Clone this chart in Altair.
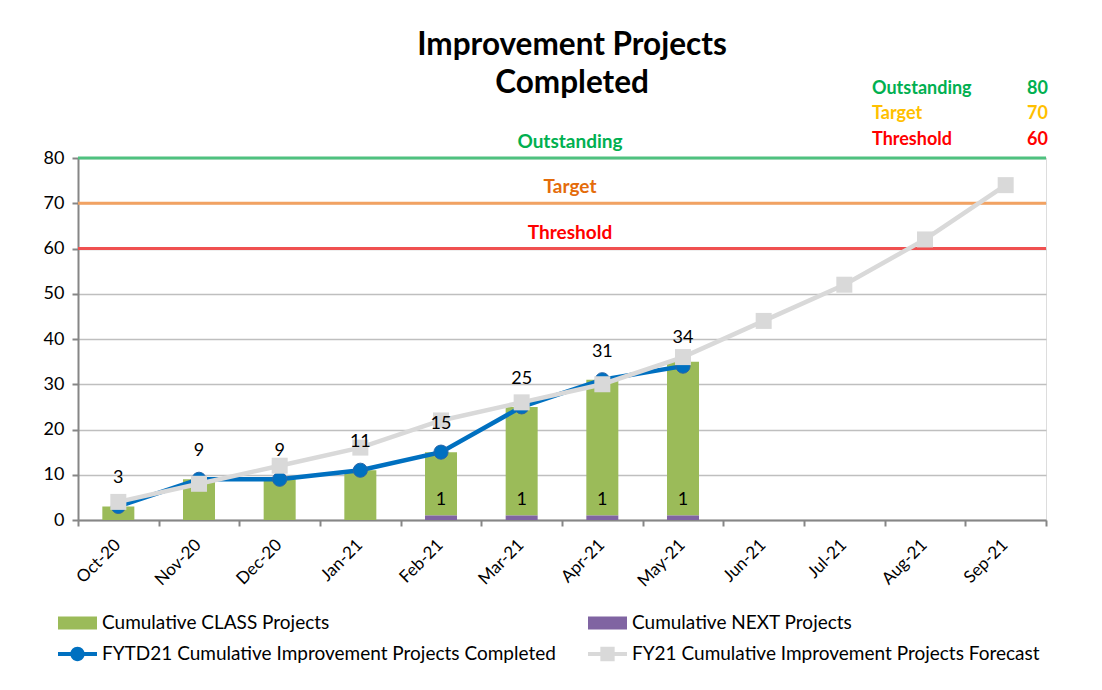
import altair as alt
import pandas as pd

# ---------------- data ----------------
months = ["Oct-20", "Nov-20", "Dec-20", "Jan-21", "Feb-21", "Mar-21",
          "Apr-21", "May-21", "Jun-21", "Jul-21", "Aug-21", "Sep-21"]
class_projects = [3, 9, 9, 11, 14, 24, 30, 34]
next_projects = [0, 0, 0, 0, 1, 1, 1, 1]
completed = [3, 9, 9, 11, 15, 25, 31, 34]
forecast = [4, 8, 12, 16, 22, 26, 30, 36, 44, 52, 62, 74]

ref_names = ["Outstanding", "Target", "Threshold"]
ref_values = [80, 70, 60]
ref_line_colors = ["#4FC17F", "#F2A262", "#F05050"]
ref_text_colors = ["#00B050", "#E46C0A", "#FF0000"]
box_colors = ["#00B050", "#FFC000", "#FF0000"]

# legend order (column-major layout: left column first)
series_names = ["Cumulative CLASS Projects",
                "FYTD21 Cumulative Improvement Projects Completed",
                "Cumulative NEXT Projects",
                "FY21 Cumulative Improvement Projects Forecast"]
series_colors = ["#9BBB59", "#0070C0", "#8064A2", "#D9D9D9"]
series_symbols = [
    "M-1.5,-0.5L1.5,-0.5L1.5,0.5L-1.5,0.5Z",
    "M-1.5,-0.15L1.5,-0.15L1.5,0.15L-1.5,0.15Z M0.55,0A0.55,0.55,0,1,1,-0.55,0A0.55,0.55,0,1,1,0.55,0Z",
    "M-1.5,-0.5L1.5,-0.5L1.5,0.5L-1.5,0.5Z",
    "M-1.5,-0.15L1.5,-0.15L1.5,0.15L-1.5,0.15Z M-0.55,-0.55L0.55,-0.55L0.55,0.55L-0.55,0.55Z",
]
bar_colors = ["#9BBB59", "#8064A2"]

FONT = "Lato"

# ---------------- tables ----------------
n_act = len(class_projects)
bars = pd.DataFrame({
    "month": months[:n_act] * 2,
    "col": [bar_colors[0]] * n_act + [bar_colors[1]] * n_act,
    "value": class_projects + next_projects,
    "ord": [1] * n_act + [0] * n_act,
})
comp_df = pd.DataFrame({"month": months[:len(completed)], "value": completed})
fc_df = pd.DataFrame({"month": months, "value": forecast})
next_df = pd.DataFrame({"month": months[:n_act], "value": next_projects})
next_df = next_df[next_df["value"] > 0]
ref_df = pd.DataFrame({"name": ref_names, "value": ref_values,
                       "lc": ref_line_colors, "tc": ref_text_colors})
leg_df = pd.DataFrame({"series": series_names, "month": [months[0]] * 4, "value": [0] * 4})

xscale = alt.Scale(domain=months, paddingInner=0, paddingOuter=0)
yscale = alt.Scale(domain=[0, 80], nice=False)
cscale = alt.Scale(domain=series_names, range=series_colors)

X = alt.X("month:N", scale=xscale, sort=months, title=None,
          axis=alt.Axis(labelAngle=-45, tickBand="extent", labelFont=FONT,
                        labelFontSize=17, labelColor="#000000", tickSize=6,
                        labelAlign="right", labelBaseline="middle", labelOffset=-1,
                        labelPadding=16, domainColor="#868686", tickColor="#868686",
                        domainWidth=2, tickWidth=2, grid=False))
Y = alt.Y("value:Q", scale=yscale, title=None,
          axis=alt.Axis(values=list(range(0, 81, 10)), labelFont=FONT, labelFontSize=18,
                        labelColor="#000000", tickSize=6, labelPadding=8,
                        domainColor="#868686", tickColor="#868686", domainWidth=2,
                        tickWidth=2, gridColor="#BFBFBF", gridWidth=1.5))

bar_layer = alt.Chart(bars).mark_bar(size=32).encode(
    x=alt.X("month:N", scale=xscale, sort=months),
    y=alt.Y("value:Q", scale=yscale, stack="zero"),
    color=alt.Color("col:N", scale=None),
    order=alt.Order("ord:Q", sort="ascending"),
)

ref_rules = alt.Chart(ref_df).mark_rule(strokeWidth=3).encode(
    y=alt.Y("value:Q", scale=yscale),
    color=alt.Color("lc:N", scale=None),
)
ref_text = alt.Chart(ref_df).mark_text(font=FONT, fontSize=19, fontWeight="bold",
                                       dy=-16, baseline="middle").encode(
    x=alt.value(492), y=alt.Y("value:Q", scale=yscale),
    text="name:N", color=alt.Color("tc:N", scale=None),
)

comp_line = alt.Chart(comp_df).mark_line(color="#0070C0", strokeWidth=4.5).encode(
    x=alt.X("month:N", scale=xscale, sort=months), y=alt.Y("value:Q", scale=yscale))
comp_pts = alt.Chart(comp_df).mark_point(filled=True, shape="circle", size=200,
                                         color="#0070C0", opacity=1,
                                         stroke="#2A66A8", strokeWidth=1).encode(
    x=alt.X("month:N", scale=xscale, sort=months), y=alt.Y("value:Q", scale=yscale))
comp_lbl = alt.Chart(comp_df).mark_text(font=FONT, fontSize=18, dy=-28,
                                        color="#000000").encode(
    x=alt.X("month:N", scale=xscale, sort=months), y=alt.Y("value:Q", scale=yscale),
    text="value:Q")

fc_line = alt.Chart(fc_df).mark_line(color="#D9D9D9", strokeWidth=4.5).encode(
    x=alt.X("month:N", scale=xscale, sort=months), y=alt.Y("value:Q", scale=yscale))
fc_pts = alt.Chart(fc_df).mark_point(filled=True, shape="square", size=256,
                                     color="#D9D9D9", opacity=1).encode(
    x=alt.X("month:N", scale=xscale, sort=months), y=alt.Y("value:Q", scale=yscale))

next_lbl = alt.Chart(next_df).mark_text(font=FONT, fontSize=18, dy=-15,
                                        color="#000000").encode(
    x=alt.X("month:N", scale=xscale, sort=months), y=alt.Y("value:Q", scale=yscale),
    text="value:Q")

leg = alt.Legend(orient="none", legendX=-13.5, legendY=452,
                 columns=2, columnPadding=31, rowPadding=8,
                 symbolSize=676, symbolStrokeWidth=0,
                 symbolOpacity=1, labelOffset=11.5,
                 labelFont=FONT, labelFontSize=19,
                 labelColor="#000000", padding=0,
                 labelLimit=600, title=None)
legend_layer = alt.Chart(leg_df).mark_point(filled=True, opacity=0).encode(
    x=alt.X("month:N", scale=xscale, sort=months), y=alt.Y("value:Q", scale=yscale),
    color=alt.Color("series:N", scale=cscale, title=None, legend=leg),
    shape=alt.Shape("series:N", scale=alt.Scale(domain=series_names, range=series_symbols),
                    title=None, legend=leg),
)

# top-right key box
box_y = [-69, -44, -18]
box_layers = []
for i in range(len(ref_names)):
    d = pd.DataFrame({"name": [ref_names[i]], "value": [str(ref_values[i])]})
    box_layers.append(alt.Chart(d).mark_text(font=FONT, fontSize=18, fontWeight="bold",
                                             align="left", baseline="middle",
                                             color=box_colors[i]).encode(
        x=alt.value(794), y=alt.value(box_y[i]), text="name:N"))
    box_layers.append(alt.Chart(d).mark_text(font=FONT, fontSize=18, fontWeight="bold",
                                             align="right", baseline="middle",
                                             color=box_colors[i]).encode(
        x=alt.value(970), y=alt.value(box_y[i]), text="value:N"))

base_axes = alt.Chart(fc_df).mark_point(opacity=0).encode(x=X, y=Y)

chart = alt.layer(
    base_axes, bar_layer, ref_rules, ref_text, comp_line, comp_pts, fc_line, fc_pts,
    comp_lbl, next_lbl, legend_layer, *box_layers
).properties(
    width=968, height=362,
    title=alt.Title(["Improvement Projects", "Completed"], font=FONT, fontSize=31.5,
                    fontWeight="bold", color="#000000", anchor="middle",
                    lineHeight=38, offset=-19, dx=10),
    padding={"left": 70, "top": 150, "right": 48, "bottom": 162},
    autosize=alt.AutoSizeParams(type="none"),
).configure_view(stroke=None).configure(background="white")

chart.save("out.html", embed_options={"renderer": "svg", "actions": False})
